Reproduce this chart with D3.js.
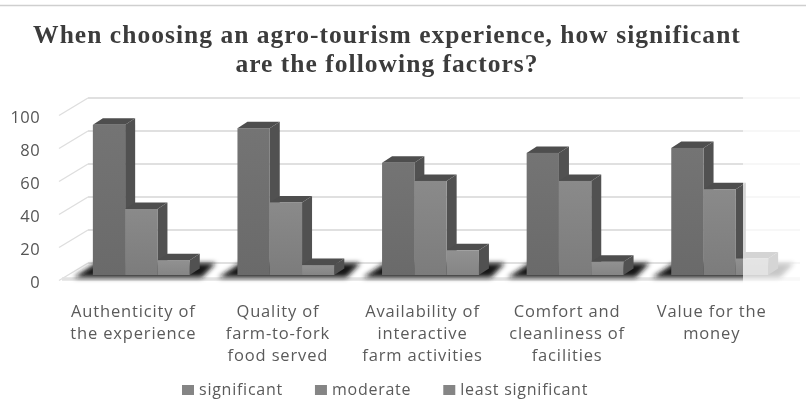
<!DOCTYPE html>
<html>
<head>
<meta charset="utf-8">
<style>
html,body{margin:0;padding:0;background:#fff;overflow:hidden}
svg{display:block;filter:blur(0.5px)}
</style>
<script src="https://cdnjs.cloudflare.com/ajax/libs/d3/7.8.5/d3.min.js"></script>
</head>
<body>
<svg id="chart" width="806" height="409"></svg>
<script>
const categories = [
  ["Authenticity of","the experience"],
  ["Quality of","farm-to-fork","food served"],
  ["Availability of","interactive","farm activities"],
  ["Comfort and","cleanliness of","facilities"],
  ["Value for the","money"]
];
const seriesNames = ["significant","moderate","least significant"];
const significant = [91,89,68,74,77];
const moderate = [40,44,57,57,52];
const leastSignificant = [9,6,15,8,10];
const yTicks = [0,20,40,60,80,100];
const titleLines = ["When choosing an agro-tourism experience, how significant","are the following factors?"];

const seriesValues = [significant,moderate,leastSignificant];
const svg = d3.select("#chart");
const W = 806, H = 409;
const sansFont = "'Open Sans','Noto Sans',sans-serif";
const depthX = 10, depthY = 6.5;
const backDX = 27, backDY = 12, frontDX = -31, frontDY = 5.5;

const idx = d3.range(categories.length);
const x0 = d3.scaleBand().domain(idx).range([69,792]).paddingInner(0.33).paddingOuter(0.165);
const x1 = d3.scaleBand().domain(d3.range(seriesNames.length)).range([0,x0.bandwidth()]);
const y = d3.scaleLinear().domain([0,100]).range([275,110]);

const defs = svg.append("defs");
defs.append("filter").attr("id","soft").attr("x","-20%").attr("y","-60%").attr("width","140%").attr("height","220%")
  .append("feGaussianBlur").attr("stdDeviation",2.4);
const stops = [["#747474","#6a6a6a"],["#8a8a8a","#7c7c7c"],["#919191","#858585"]];
stops.forEach((s,i)=>{
  const g = defs.append("linearGradient").attr("id","front"+i).attr("x1",0).attr("x2",0).attr("y1",0).attr("y2",1);
  g.append("stop").attr("offset",0).attr("stop-color",s[0]);
  g.append("stop").attr("offset",1).attr("stop-color",s[1]);
});

// top rule
svg.append("line").attr("x1",0).attr("x2",W).attr("y1",5.5).attr("y2",5.5).attr("stroke","#cfcfcf").attr("stroke-width",1.5);

// title
svg.append("g").selectAll("text").data(titleLines).join("text")
  .attr("x",387).attr("y",(d,i)=>43+i*28.5)
  .attr("text-anchor","middle")
  .attr("font-family","'Liberation Serif',serif").attr("font-weight","bold")
  .attr("font-size",25.5).attr("letter-spacing",1.03).attr("fill","#3c3c3c")
  .text(d=>d);

// gridlines and wall
const leftBack = 60+backDX+1, rightBack = W-6;
const grid = svg.append("g");
grid.selectAll(".g").data(yTicks).join("line")
  .attr("x1",leftBack).attr("x2",rightBack)
  .attr("y1",d=>y(d)-backDY).attr("y2",d=>y(d)-backDY)
  .attr("stroke","#d6d6d6").attr("stroke-width",1.4);
grid.selectAll(".w").data(yTicks).join("line")
  .attr("x1",leftBack).attr("x2",leftBack+frontDX+2)
  .attr("y1",d=>y(d)-backDY).attr("y2",d=>y(d)+frontDY)
  .attr("stroke","#dedede").attr("stroke-width",1.4);

// floor
svg.append("line").attr("x1",62).attr("x2",rightBack).attr("y1",y(0)+4).attr("y2",y(0)+4)
  .attr("stroke","#e2e2e2").attr("stroke-width",3.5);

// floor shadows
svg.append("g").selectAll("polygon").data(idx).join("polygon")
  .attr("points",c=>{
    const l = x0(c), r = l + x0.bandwidth(), b = y(0);
    return [[l-19,b+2.5],[l+3,b-12],[r+26,b-12],[r+12,b+2.5]].join(" ");
  })
  .attr("fill","#161616").attr("filter","url(#soft)");

// bars
const bars = svg.append("g");
idx.forEach(c=>{
  seriesNames.forEach((name,s)=>{
    const v = seriesValues[s][c];
    const l = x0(c)+x1(s), r = l+x1.bandwidth(), t = y(v), b = y(0);
    const g = bars.append("g");
    g.append("polygon").attr("fill","#515151")
      .attr("points",[[r,t],[r+depthX,t-depthY],[r+depthX,b-depthY],[r,b]].join(" "));
    g.append("polygon").attr("fill","#4e4e4e")
      .attr("points",[[l,t],[l+depthX,t-depthY],[r+depthX,t-depthY],[r,t]].join(" "));
    g.append("rect").attr("x",l).attr("y",t).attr("width",x1.bandwidth()).attr("height",b-t)
      .attr("fill",`url(#front${s})`);
  });
});

// fade on the right edge
svg.append("rect").attr("x",743).attr("y",88).attr("width",W-743).attr("height",205).attr("fill","#fff").attr("opacity",0.76);

// y axis
const yAxis = d3.axisLeft(y).tickValues(yTicks).tickSize(0).tickPadding(0);
const ya = svg.append("g").attr("transform",`translate(40,${frontDY+1.5})`).call(yAxis);
ya.select(".domain").remove();
ya.selectAll("text").attr("font-family",sansFont).attr("font-size",16.5).attr("letter-spacing",0.4).attr("fill","#555");

// category labels
const cats = svg.append("g");
idx.forEach(c=>{
  const cx = x0(c)+x0.bandwidth()/2-8;
  cats.append("g").selectAll("text").data(categories[c]).join("text")
    .attr("x",cx).attr("y",(d,i)=>317+i*22)
    .attr("text-anchor","middle").attr("font-family",sansFont)
    .attr("font-size",16.5).attr("letter-spacing",0.85).attr("fill","#5a5a5a")
    .text(d=>d);
});

// legend
const legend = svg.append("g");
let lx = 182;
seriesNames.forEach((name,s)=>{
  legend.append("rect").attr("x",lx).attr("y",385).attr("width",12).attr("height",10).attr("fill","#858585");
  const t = legend.append("text").attr("x",lx+17).attr("y",395)
    .attr("font-family",sansFont).attr("font-size",16).attr("letter-spacing",0.75).attr("fill","#5a5a5a").text(name);
  lx += 17 + t.node().getComputedTextLength() + 32;
});
</script>
</body>
</html>
